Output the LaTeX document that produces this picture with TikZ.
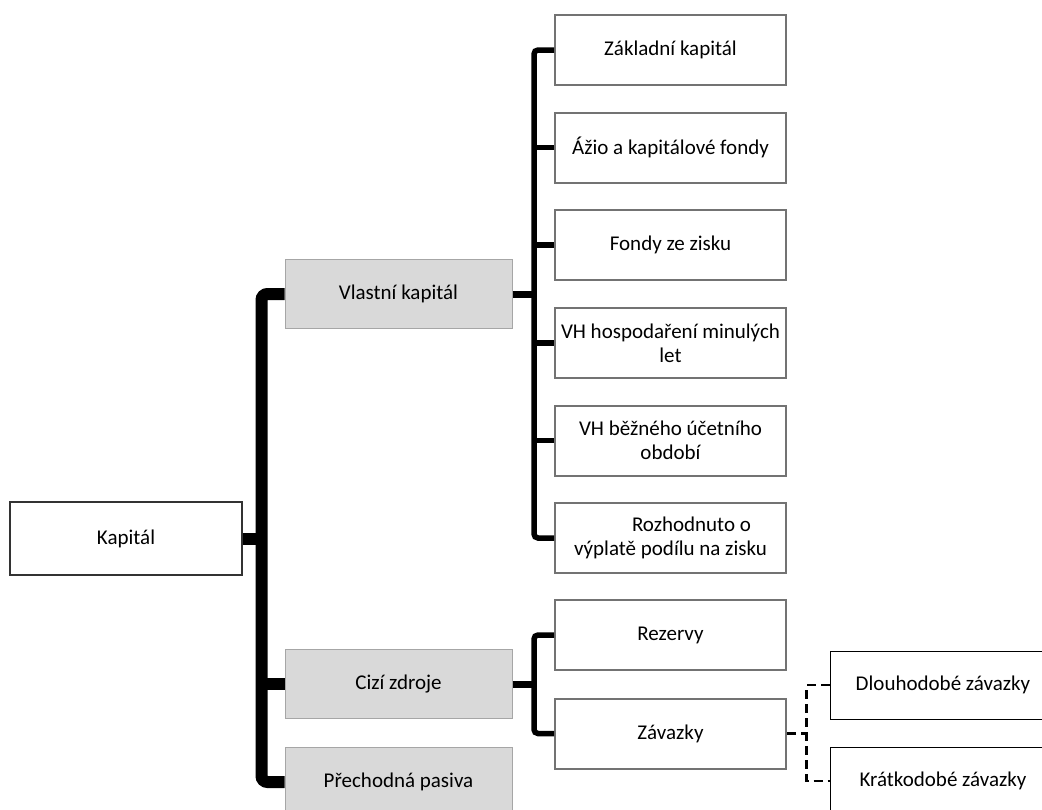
\documentclass[tikz,border=0pt]{standalone}
\usepackage{fontspec}
\setmainfont{Carlito}
\begin{document}
\begin{tikzpicture}[x=1pt,y=-1pt,
  every node/.style={font=\fontsize{21}{24}\selectfont, align=center, inner sep=0pt},
  kapbox/.style={draw=black!80, line width=1.8pt, fill=white, minimum width=232, minimum height=73},
  graybox/.style={draw=gray!70, line width=1pt, fill=black!15, minimum width=227, minimum height=69},
  subbox/.style={draw=black!55, line width=2pt, fill=white, minimum width=231, minimum height=70},
  leafbox/.style={draw=black, line width=1pt, fill=white, minimum width=400, minimum height=68},
  trunk/.style={line width=12pt, rounded corners=6pt},
  bus/.style={line width=5.5pt, rounded corners=4pt},
  busin/.style={line width=7pt},
  dashbus/.style={line width=2.6pt, dash pattern=on 9pt off 5pt}
]
\useasboundingbox (0,0) rectangle (1042,809);
\clip (0,0) rectangle (1042,809);
\fill[white] (0,0) rectangle (1042,809);

% level 0
\node[kapbox] (kap) at (126,538.5) {Kapitál};

% level 1
\node[graybox] (vk) at (398.5,294) {Vlastní kapitál};
\node[graybox] (cz) at (398.5,684) {Cizí zdroje};
\node[graybox] (pp) at (398.5,782) {Přechodná pasiva};

% level 2 - vlastní kapitál
\node[subbox] (zk) at (670.5,50) {Základní kapitál};
\node[subbox] (az) at (670.5,147.5) {Ážio a kapitálové fondy};
\node[subbox] (fz) at (670.5,245) {Fondy ze zisku};
\node[subbox] (vhm) at (670.5,343) {VH hospodaření minulých\\let};
\node[subbox] (vhb) at (670.5,440.5) {VH běžného účetního\\období};
\node[subbox] (rv) at (670.5,538) {\hspace*{2em}Rozhodnuto o\\výplatě podílu na zisku};

% level 2 - cizí zdroje
\node[subbox] (rz) at (670.5,635) {Rezervy};
\node[subbox] (zv) at (670.5,733.5) {Závazky};

% level 3
\node[leafbox] (dl) at (1030,685) {\hspace*{-174pt}Dlouhodobé závazky};
\node[leafbox] (kr) at (1030,781) {\hspace*{-174pt}Krátkodobé závazky};

% trunk
\draw[trunk] (vk.west) -- ++(-23,0) |- (pp.west);
\draw[line width=12pt] (cz.west) -- ++(-23,0);
\draw[line width=12pt] (kap.east) -- ++(20,0);

% vlastní kapitál bus
\draw[busin] (vk.east) -- ++(23,0);
\draw[bus] (zk.west) -- ++(-20,0) |- (rv.west);
\draw[bus] (az.west) -- ++(-20,0);
\draw[bus] (fz.west) -- ++(-20,0);
\draw[bus] (vhm.west) -- ++(-20,0);
\draw[bus] (vhb.west) -- ++(-20,0);

% cizí zdroje bus
\draw[busin] (cz.east) -- ++(23,0);
\draw[bus] (rz.west) -- ++(-20,0) |- (zv.west);

% závazky dashed
\draw[dashbus] (zv.east) -- ++(20,0);
\draw[dashbus] (dl.west) -- ++(-23,0) |- (kr.west);
\end{tikzpicture}
\end{document}
